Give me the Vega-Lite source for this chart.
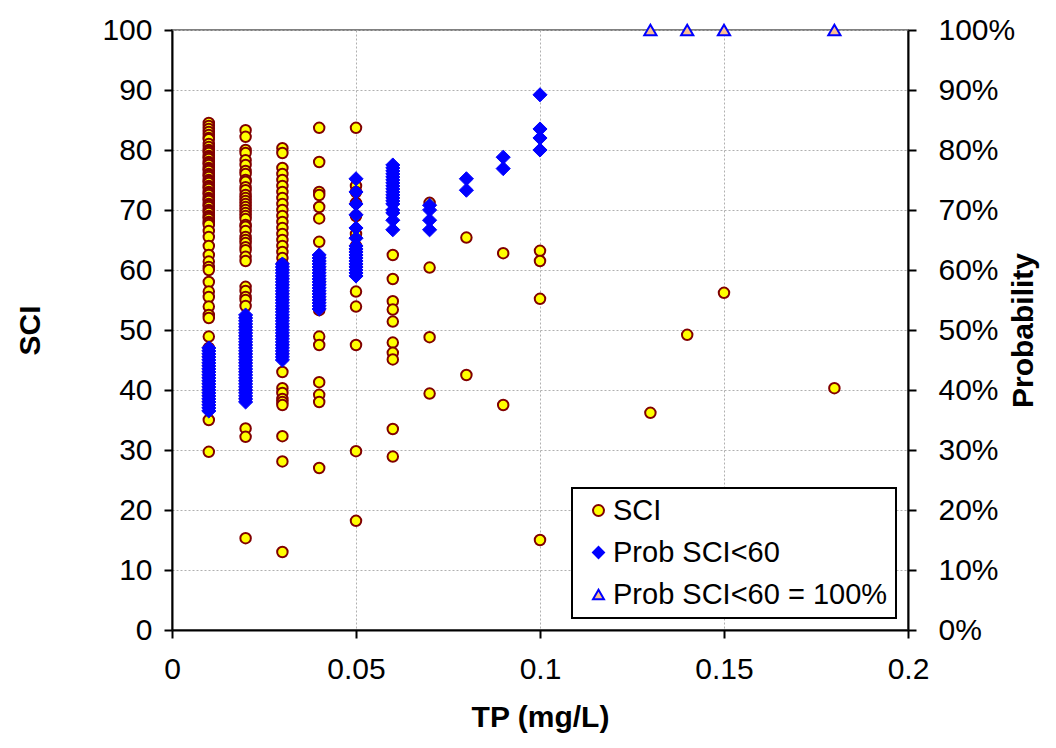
{
  "$schema": "https://vega.github.io/schema/vega-lite/v6.json",
  "width": 736,
  "height": 600,
  "autosize": {"type": "none"},
  "padding": {"left": 172, "top": 30, "right": 148, "bottom": 118},
  "background": "white",
  "config": {
    "font": "Liberation Sans",
    "view": {"stroke": "#808080", "strokeWidth": 2},
    "axis": {
      "labelFont": "Liberation Sans",
      "labelFontSize": 30,
      "labelColor": "black",
      "titleFont": "Liberation Sans",
      "titleFontSize": 30,
      "titleFontWeight": "bold",
      "titleColor": "black",
      "domainColor": "black",
      "domainWidth": 2,
      "tickColor": "black",
      "tickWidth": 2,
      "tickSize": 8,
      "gridColor": "#b0b0b0",
      "gridDash": [2, 2],
      "gridWidth": 1
    },
    "legend": {"strokeWidth": 2}
  },
  "data": {
    "values": [
      {"tp": 0.01, "value": 84.5, "series": "SCI"},
      {"tp": 0.01, "value": 84, "series": "SCI"},
      {"tp": 0.01, "value": 83.5, "series": "SCI"},
      {"tp": 0.01, "value": 83, "series": "SCI"},
      {"tp": 0.01, "value": 82.5, "series": "SCI"},
      {"tp": 0.01, "value": 82, "series": "SCI"},
      {"tp": 0.01, "value": 81.8, "series": "SCI"},
      {"tp": 0.01, "value": 81, "series": "SCI"},
      {"tp": 0.01, "value": 80.5, "series": "SCI"},
      {"tp": 0.01, "value": 80, "series": "SCI"},
      {"tp": 0.01, "value": 79.8, "series": "SCI"},
      {"tp": 0.01, "value": 79.5, "series": "SCI"},
      {"tp": 0.01, "value": 79, "series": "SCI"},
      {"tp": 0.01, "value": 78.8, "series": "SCI"},
      {"tp": 0.01, "value": 78.5, "series": "SCI"},
      {"tp": 0.01, "value": 78, "series": "SCI"},
      {"tp": 0.01, "value": 77.8, "series": "SCI"},
      {"tp": 0.01, "value": 77.5, "series": "SCI"},
      {"tp": 0.01, "value": 77, "series": "SCI"},
      {"tp": 0.01, "value": 76.8, "series": "SCI"},
      {"tp": 0.01, "value": 76.5, "series": "SCI"},
      {"tp": 0.01, "value": 76, "series": "SCI"},
      {"tp": 0.01, "value": 75.8, "series": "SCI"},
      {"tp": 0.01, "value": 75.5, "series": "SCI"},
      {"tp": 0.01, "value": 75, "series": "SCI"},
      {"tp": 0.01, "value": 74.8, "series": "SCI"},
      {"tp": 0.01, "value": 74.5, "series": "SCI"},
      {"tp": 0.01, "value": 74, "series": "SCI"},
      {"tp": 0.01, "value": 73.8, "series": "SCI"},
      {"tp": 0.01, "value": 73.5, "series": "SCI"},
      {"tp": 0.01, "value": 73, "series": "SCI"},
      {"tp": 0.01, "value": 72.8, "series": "SCI"},
      {"tp": 0.01, "value": 72.5, "series": "SCI"},
      {"tp": 0.01, "value": 72, "series": "SCI"},
      {"tp": 0.01, "value": 71.8, "series": "SCI"},
      {"tp": 0.01, "value": 71.5, "series": "SCI"},
      {"tp": 0.01, "value": 71, "series": "SCI"},
      {"tp": 0.01, "value": 70.8, "series": "SCI"},
      {"tp": 0.01, "value": 70.5, "series": "SCI"},
      {"tp": 0.01, "value": 70, "series": "SCI"},
      {"tp": 0.01, "value": 69.8, "series": "SCI"},
      {"tp": 0.01, "value": 69.5, "series": "SCI"},
      {"tp": 0.01, "value": 69, "series": "SCI"},
      {"tp": 0.01, "value": 68.8, "series": "SCI"},
      {"tp": 0.01, "value": 68.5, "series": "SCI"},
      {"tp": 0.01, "value": 68, "series": "SCI"},
      {"tp": 0.01, "value": 67.8, "series": "SCI"},
      {"tp": 0.01, "value": 67.5, "series": "SCI"},
      {"tp": 0.01, "value": 66.5, "series": "SCI"},
      {"tp": 0.01, "value": 65.5, "series": "SCI"},
      {"tp": 0.01, "value": 64, "series": "SCI"},
      {"tp": 0.01, "value": 62.5, "series": "SCI"},
      {"tp": 0.01, "value": 61.4, "series": "SCI"},
      {"tp": 0.01, "value": 60.5, "series": "SCI"},
      {"tp": 0.01, "value": 60, "series": "SCI"},
      {"tp": 0.01, "value": 58, "series": "SCI"},
      {"tp": 0.01, "value": 56.4, "series": "SCI"},
      {"tp": 0.01, "value": 55.5, "series": "SCI"},
      {"tp": 0.01, "value": 53.9, "series": "SCI"},
      {"tp": 0.01, "value": 52.5, "series": "SCI"},
      {"tp": 0.01, "value": 52, "series": "SCI"},
      {"tp": 0.01, "value": 48.9, "series": "SCI"},
      {"tp": 0.01, "value": 47, "series": "SCI"},
      {"tp": 0.01, "value": 45.5, "series": "SCI"},
      {"tp": 0.01, "value": 44, "series": "SCI"},
      {"tp": 0.01, "value": 43, "series": "SCI"},
      {"tp": 0.01, "value": 42, "series": "SCI"},
      {"tp": 0.01, "value": 41, "series": "SCI"},
      {"tp": 0.01, "value": 40, "series": "SCI"},
      {"tp": 0.01, "value": 39, "series": "SCI"},
      {"tp": 0.01, "value": 38, "series": "SCI"},
      {"tp": 0.01, "value": 35, "series": "SCI"},
      {"tp": 0.01, "value": 29.7, "series": "SCI"},
      {"tp": 0.02, "value": 83.3, "series": "SCI"},
      {"tp": 0.02, "value": 82.2, "series": "SCI"},
      {"tp": 0.02, "value": 80, "series": "SCI"},
      {"tp": 0.02, "value": 79.5, "series": "SCI"},
      {"tp": 0.02, "value": 78.3, "series": "SCI"},
      {"tp": 0.02, "value": 77.5, "series": "SCI"},
      {"tp": 0.02, "value": 76.5, "series": "SCI"},
      {"tp": 0.02, "value": 76, "series": "SCI"},
      {"tp": 0.02, "value": 75, "series": "SCI"},
      {"tp": 0.02, "value": 74.7, "series": "SCI"},
      {"tp": 0.02, "value": 73.8, "series": "SCI"},
      {"tp": 0.02, "value": 73.3, "series": "SCI"},
      {"tp": 0.02, "value": 72.5, "series": "SCI"},
      {"tp": 0.02, "value": 72, "series": "SCI"},
      {"tp": 0.02, "value": 71.5, "series": "SCI"},
      {"tp": 0.02, "value": 71, "series": "SCI"},
      {"tp": 0.02, "value": 70.5, "series": "SCI"},
      {"tp": 0.02, "value": 70, "series": "SCI"},
      {"tp": 0.02, "value": 69.5, "series": "SCI"},
      {"tp": 0.02, "value": 69, "series": "SCI"},
      {"tp": 0.02, "value": 68.5, "series": "SCI"},
      {"tp": 0.02, "value": 67.5, "series": "SCI"},
      {"tp": 0.02, "value": 67.2, "series": "SCI"},
      {"tp": 0.02, "value": 66.5, "series": "SCI"},
      {"tp": 0.02, "value": 65.5, "series": "SCI"},
      {"tp": 0.02, "value": 65, "series": "SCI"},
      {"tp": 0.02, "value": 64.5, "series": "SCI"},
      {"tp": 0.02, "value": 63.8, "series": "SCI"},
      {"tp": 0.02, "value": 63.3, "series": "SCI"},
      {"tp": 0.02, "value": 62.2, "series": "SCI"},
      {"tp": 0.02, "value": 61.5, "series": "SCI"},
      {"tp": 0.02, "value": 57.2, "series": "SCI"},
      {"tp": 0.02, "value": 56.5, "series": "SCI"},
      {"tp": 0.02, "value": 55.5, "series": "SCI"},
      {"tp": 0.02, "value": 55, "series": "SCI"},
      {"tp": 0.02, "value": 54, "series": "SCI"},
      {"tp": 0.02, "value": 52, "series": "SCI"},
      {"tp": 0.02, "value": 50.5, "series": "SCI"},
      {"tp": 0.02, "value": 49, "series": "SCI"},
      {"tp": 0.02, "value": 47.5, "series": "SCI"},
      {"tp": 0.02, "value": 46, "series": "SCI"},
      {"tp": 0.02, "value": 44.5, "series": "SCI"},
      {"tp": 0.02, "value": 43, "series": "SCI"},
      {"tp": 0.02, "value": 41.5, "series": "SCI"},
      {"tp": 0.02, "value": 40, "series": "SCI"},
      {"tp": 0.02, "value": 38.5, "series": "SCI"},
      {"tp": 0.02, "value": 33.6, "series": "SCI"},
      {"tp": 0.02, "value": 32.2, "series": "SCI"},
      {"tp": 0.02, "value": 15.3, "series": "SCI"},
      {"tp": 0.03, "value": 80.3, "series": "SCI"},
      {"tp": 0.03, "value": 79.5, "series": "SCI"},
      {"tp": 0.03, "value": 77, "series": "SCI"},
      {"tp": 0.03, "value": 76, "series": "SCI"},
      {"tp": 0.03, "value": 75, "series": "SCI"},
      {"tp": 0.03, "value": 74, "series": "SCI"},
      {"tp": 0.03, "value": 73, "series": "SCI"},
      {"tp": 0.03, "value": 72, "series": "SCI"},
      {"tp": 0.03, "value": 71, "series": "SCI"},
      {"tp": 0.03, "value": 70, "series": "SCI"},
      {"tp": 0.03, "value": 69, "series": "SCI"},
      {"tp": 0.03, "value": 68, "series": "SCI"},
      {"tp": 0.03, "value": 67, "series": "SCI"},
      {"tp": 0.03, "value": 66, "series": "SCI"},
      {"tp": 0.03, "value": 65, "series": "SCI"},
      {"tp": 0.03, "value": 64, "series": "SCI"},
      {"tp": 0.03, "value": 63, "series": "SCI"},
      {"tp": 0.03, "value": 62, "series": "SCI"},
      {"tp": 0.03, "value": 61, "series": "SCI"},
      {"tp": 0.03, "value": 60, "series": "SCI"},
      {"tp": 0.03, "value": 58.5, "series": "SCI"},
      {"tp": 0.03, "value": 57.5, "series": "SCI"},
      {"tp": 0.03, "value": 56, "series": "SCI"},
      {"tp": 0.03, "value": 55, "series": "SCI"},
      {"tp": 0.03, "value": 53.5, "series": "SCI"},
      {"tp": 0.03, "value": 52, "series": "SCI"},
      {"tp": 0.03, "value": 50.5, "series": "SCI"},
      {"tp": 0.03, "value": 49, "series": "SCI"},
      {"tp": 0.03, "value": 47.5, "series": "SCI"},
      {"tp": 0.03, "value": 46, "series": "SCI"},
      {"tp": 0.03, "value": 43, "series": "SCI"},
      {"tp": 0.03, "value": 40.3, "series": "SCI"},
      {"tp": 0.03, "value": 39.5, "series": "SCI"},
      {"tp": 0.03, "value": 38.5, "series": "SCI"},
      {"tp": 0.03, "value": 38, "series": "SCI"},
      {"tp": 0.03, "value": 37.5, "series": "SCI"},
      {"tp": 0.03, "value": 32.3, "series": "SCI"},
      {"tp": 0.03, "value": 28.1, "series": "SCI"},
      {"tp": 0.03, "value": 13, "series": "SCI"},
      {"tp": 0.04, "value": 83.7, "series": "SCI"},
      {"tp": 0.04, "value": 78, "series": "SCI"},
      {"tp": 0.04, "value": 73, "series": "SCI"},
      {"tp": 0.04, "value": 72.5, "series": "SCI"},
      {"tp": 0.04, "value": 70.5, "series": "SCI"},
      {"tp": 0.04, "value": 68.6, "series": "SCI"},
      {"tp": 0.04, "value": 64.7, "series": "SCI"},
      {"tp": 0.04, "value": 62, "series": "SCI"},
      {"tp": 0.04, "value": 61.4, "series": "SCI"},
      {"tp": 0.04, "value": 60, "series": "SCI"},
      {"tp": 0.04, "value": 58, "series": "SCI"},
      {"tp": 0.04, "value": 57.8, "series": "SCI"},
      {"tp": 0.04, "value": 56, "series": "SCI"},
      {"tp": 0.04, "value": 55, "series": "SCI"},
      {"tp": 0.04, "value": 53.3, "series": "SCI"},
      {"tp": 0.04, "value": 48.9, "series": "SCI"},
      {"tp": 0.04, "value": 47.5, "series": "SCI"},
      {"tp": 0.04, "value": 41.3, "series": "SCI"},
      {"tp": 0.04, "value": 39.2, "series": "SCI"},
      {"tp": 0.04, "value": 38, "series": "SCI"},
      {"tp": 0.04, "value": 27, "series": "SCI"},
      {"tp": 0.05, "value": 83.7, "series": "SCI"},
      {"tp": 0.05, "value": 74, "series": "SCI"},
      {"tp": 0.05, "value": 73, "series": "SCI"},
      {"tp": 0.05, "value": 71.2, "series": "SCI"},
      {"tp": 0.05, "value": 69, "series": "SCI"},
      {"tp": 0.05, "value": 66, "series": "SCI"},
      {"tp": 0.05, "value": 64, "series": "SCI"},
      {"tp": 0.05, "value": 63, "series": "SCI"},
      {"tp": 0.05, "value": 62, "series": "SCI"},
      {"tp": 0.05, "value": 60.5, "series": "SCI"},
      {"tp": 0.05, "value": 56.4, "series": "SCI"},
      {"tp": 0.05, "value": 53.9, "series": "SCI"},
      {"tp": 0.05, "value": 47.5, "series": "SCI"},
      {"tp": 0.05, "value": 29.8, "series": "SCI"},
      {"tp": 0.05, "value": 18.2, "series": "SCI"},
      {"tp": 0.06, "value": 72, "series": "SCI"},
      {"tp": 0.06, "value": 62.5, "series": "SCI"},
      {"tp": 0.06, "value": 58.5, "series": "SCI"},
      {"tp": 0.06, "value": 54.8, "series": "SCI"},
      {"tp": 0.06, "value": 53.4, "series": "SCI"},
      {"tp": 0.06, "value": 51.4, "series": "SCI"},
      {"tp": 0.06, "value": 47.9, "series": "SCI"},
      {"tp": 0.06, "value": 46.2, "series": "SCI"},
      {"tp": 0.06, "value": 45.1, "series": "SCI"},
      {"tp": 0.06, "value": 33.5, "series": "SCI"},
      {"tp": 0.06, "value": 28.9, "series": "SCI"},
      {"tp": 0.07, "value": 71.2, "series": "SCI"},
      {"tp": 0.07, "value": 60.4, "series": "SCI"},
      {"tp": 0.07, "value": 48.8, "series": "SCI"},
      {"tp": 0.07, "value": 39.4, "series": "SCI"},
      {"tp": 0.08, "value": 65.4, "series": "SCI"},
      {"tp": 0.08, "value": 42.5, "series": "SCI"},
      {"tp": 0.09, "value": 62.8, "series": "SCI"},
      {"tp": 0.09, "value": 37.5, "series": "SCI"},
      {"tp": 0.1, "value": 63.2, "series": "SCI"},
      {"tp": 0.1, "value": 61.5, "series": "SCI"},
      {"tp": 0.1, "value": 55.2, "series": "SCI"},
      {"tp": 0.1, "value": 15, "series": "SCI"},
      {"tp": 0.13, "value": 36.2, "series": "SCI"},
      {"tp": 0.14, "value": 49.2, "series": "SCI"},
      {"tp": 0.15, "value": 56.2, "series": "SCI"},
      {"tp": 0.18, "value": 40.3, "series": "SCI"},

      {"tp": 0.01, "value": 0.365, "series": "Prob SCI<60"},
      {"tp": 0.01, "value": 0.37, "series": "Prob SCI<60"},
      {"tp": 0.01, "value": 0.375, "series": "Prob SCI<60"},
      {"tp": 0.01, "value": 0.38, "series": "Prob SCI<60"},
      {"tp": 0.01, "value": 0.385, "series": "Prob SCI<60"},
      {"tp": 0.01, "value": 0.39, "series": "Prob SCI<60"},
      {"tp": 0.01, "value": 0.395, "series": "Prob SCI<60"},
      {"tp": 0.01, "value": 0.4, "series": "Prob SCI<60"},
      {"tp": 0.01, "value": 0.405, "series": "Prob SCI<60"},
      {"tp": 0.01, "value": 0.41, "series": "Prob SCI<60"},
      {"tp": 0.01, "value": 0.415, "series": "Prob SCI<60"},
      {"tp": 0.01, "value": 0.42, "series": "Prob SCI<60"},
      {"tp": 0.01, "value": 0.425, "series": "Prob SCI<60"},
      {"tp": 0.01, "value": 0.43, "series": "Prob SCI<60"},
      {"tp": 0.01, "value": 0.435, "series": "Prob SCI<60"},
      {"tp": 0.01, "value": 0.44, "series": "Prob SCI<60"},
      {"tp": 0.01, "value": 0.445, "series": "Prob SCI<60"},
      {"tp": 0.01, "value": 0.45, "series": "Prob SCI<60"},
      {"tp": 0.01, "value": 0.455, "series": "Prob SCI<60"},
      {"tp": 0.01, "value": 0.46, "series": "Prob SCI<60"},
      {"tp": 0.01, "value": 0.465, "series": "Prob SCI<60"},
      {"tp": 0.01, "value": 0.47, "series": "Prob SCI<60"},
      {"tp": 0.02, "value": 0.38, "series": "Prob SCI<60"},
      {"tp": 0.02, "value": 0.385, "series": "Prob SCI<60"},
      {"tp": 0.02, "value": 0.39, "series": "Prob SCI<60"},
      {"tp": 0.02, "value": 0.395, "series": "Prob SCI<60"},
      {"tp": 0.02, "value": 0.4, "series": "Prob SCI<60"},
      {"tp": 0.02, "value": 0.405, "series": "Prob SCI<60"},
      {"tp": 0.02, "value": 0.41, "series": "Prob SCI<60"},
      {"tp": 0.02, "value": 0.415, "series": "Prob SCI<60"},
      {"tp": 0.02, "value": 0.42, "series": "Prob SCI<60"},
      {"tp": 0.02, "value": 0.425, "series": "Prob SCI<60"},
      {"tp": 0.02, "value": 0.43, "series": "Prob SCI<60"},
      {"tp": 0.02, "value": 0.435, "series": "Prob SCI<60"},
      {"tp": 0.02, "value": 0.44, "series": "Prob SCI<60"},
      {"tp": 0.02, "value": 0.445, "series": "Prob SCI<60"},
      {"tp": 0.02, "value": 0.45, "series": "Prob SCI<60"},
      {"tp": 0.02, "value": 0.455, "series": "Prob SCI<60"},
      {"tp": 0.02, "value": 0.46, "series": "Prob SCI<60"},
      {"tp": 0.02, "value": 0.465, "series": "Prob SCI<60"},
      {"tp": 0.02, "value": 0.47, "series": "Prob SCI<60"},
      {"tp": 0.02, "value": 0.475, "series": "Prob SCI<60"},
      {"tp": 0.02, "value": 0.48, "series": "Prob SCI<60"},
      {"tp": 0.02, "value": 0.485, "series": "Prob SCI<60"},
      {"tp": 0.02, "value": 0.49, "series": "Prob SCI<60"},
      {"tp": 0.02, "value": 0.495, "series": "Prob SCI<60"},
      {"tp": 0.02, "value": 0.5, "series": "Prob SCI<60"},
      {"tp": 0.02, "value": 0.505, "series": "Prob SCI<60"},
      {"tp": 0.02, "value": 0.51, "series": "Prob SCI<60"},
      {"tp": 0.02, "value": 0.515, "series": "Prob SCI<60"},
      {"tp": 0.02, "value": 0.52, "series": "Prob SCI<60"},
      {"tp": 0.02, "value": 0.525, "series": "Prob SCI<60"},
      {"tp": 0.03, "value": 0.45, "series": "Prob SCI<60"},
      {"tp": 0.03, "value": 0.455, "series": "Prob SCI<60"},
      {"tp": 0.03, "value": 0.46, "series": "Prob SCI<60"},
      {"tp": 0.03, "value": 0.465, "series": "Prob SCI<60"},
      {"tp": 0.03, "value": 0.47, "series": "Prob SCI<60"},
      {"tp": 0.03, "value": 0.475, "series": "Prob SCI<60"},
      {"tp": 0.03, "value": 0.48, "series": "Prob SCI<60"},
      {"tp": 0.03, "value": 0.485, "series": "Prob SCI<60"},
      {"tp": 0.03, "value": 0.49, "series": "Prob SCI<60"},
      {"tp": 0.03, "value": 0.495, "series": "Prob SCI<60"},
      {"tp": 0.03, "value": 0.5, "series": "Prob SCI<60"},
      {"tp": 0.03, "value": 0.505, "series": "Prob SCI<60"},
      {"tp": 0.03, "value": 0.51, "series": "Prob SCI<60"},
      {"tp": 0.03, "value": 0.515, "series": "Prob SCI<60"},
      {"tp": 0.03, "value": 0.52, "series": "Prob SCI<60"},
      {"tp": 0.03, "value": 0.525, "series": "Prob SCI<60"},
      {"tp": 0.03, "value": 0.53, "series": "Prob SCI<60"},
      {"tp": 0.03, "value": 0.535, "series": "Prob SCI<60"},
      {"tp": 0.03, "value": 0.54, "series": "Prob SCI<60"},
      {"tp": 0.03, "value": 0.545, "series": "Prob SCI<60"},
      {"tp": 0.03, "value": 0.55, "series": "Prob SCI<60"},
      {"tp": 0.03, "value": 0.555, "series": "Prob SCI<60"},
      {"tp": 0.03, "value": 0.56, "series": "Prob SCI<60"},
      {"tp": 0.03, "value": 0.565, "series": "Prob SCI<60"},
      {"tp": 0.03, "value": 0.57, "series": "Prob SCI<60"},
      {"tp": 0.03, "value": 0.575, "series": "Prob SCI<60"},
      {"tp": 0.03, "value": 0.58, "series": "Prob SCI<60"},
      {"tp": 0.03, "value": 0.585, "series": "Prob SCI<60"},
      {"tp": 0.03, "value": 0.59, "series": "Prob SCI<60"},
      {"tp": 0.03, "value": 0.595, "series": "Prob SCI<60"},
      {"tp": 0.03, "value": 0.6, "series": "Prob SCI<60"},
      {"tp": 0.03, "value": 0.605, "series": "Prob SCI<60"},
      {"tp": 0.03, "value": 0.61, "series": "Prob SCI<60"},
      {"tp": 0.04, "value": 0.535, "series": "Prob SCI<60"},
      {"tp": 0.04, "value": 0.54, "series": "Prob SCI<60"},
      {"tp": 0.04, "value": 0.545, "series": "Prob SCI<60"},
      {"tp": 0.04, "value": 0.55, "series": "Prob SCI<60"},
      {"tp": 0.04, "value": 0.555, "series": "Prob SCI<60"},
      {"tp": 0.04, "value": 0.56, "series": "Prob SCI<60"},
      {"tp": 0.04, "value": 0.565, "series": "Prob SCI<60"},
      {"tp": 0.04, "value": 0.57, "series": "Prob SCI<60"},
      {"tp": 0.04, "value": 0.575, "series": "Prob SCI<60"},
      {"tp": 0.04, "value": 0.58, "series": "Prob SCI<60"},
      {"tp": 0.04, "value": 0.585, "series": "Prob SCI<60"},
      {"tp": 0.04, "value": 0.59, "series": "Prob SCI<60"},
      {"tp": 0.04, "value": 0.595, "series": "Prob SCI<60"},
      {"tp": 0.04, "value": 0.6, "series": "Prob SCI<60"},
      {"tp": 0.04, "value": 0.605, "series": "Prob SCI<60"},
      {"tp": 0.04, "value": 0.61, "series": "Prob SCI<60"},
      {"tp": 0.04, "value": 0.615, "series": "Prob SCI<60"},
      {"tp": 0.04, "value": 0.62, "series": "Prob SCI<60"},
      {"tp": 0.04, "value": 0.625, "series": "Prob SCI<60"},
      {"tp": 0.05, "value": 0.752, "series": "Prob SCI<60"},
      {"tp": 0.05, "value": 0.73, "series": "Prob SCI<60"},
      {"tp": 0.05, "value": 0.71, "series": "Prob SCI<60"},
      {"tp": 0.05, "value": 0.692, "series": "Prob SCI<60"},
      {"tp": 0.05, "value": 0.67, "series": "Prob SCI<60"},
      {"tp": 0.05, "value": 0.653, "series": "Prob SCI<60"},
      {"tp": 0.05, "value": 0.64, "series": "Prob SCI<60"},
      {"tp": 0.05, "value": 0.635, "series": "Prob SCI<60"},
      {"tp": 0.05, "value": 0.63, "series": "Prob SCI<60"},
      {"tp": 0.05, "value": 0.625, "series": "Prob SCI<60"},
      {"tp": 0.05, "value": 0.62, "series": "Prob SCI<60"},
      {"tp": 0.05, "value": 0.615, "series": "Prob SCI<60"},
      {"tp": 0.05, "value": 0.61, "series": "Prob SCI<60"},
      {"tp": 0.05, "value": 0.605, "series": "Prob SCI<60"},
      {"tp": 0.05, "value": 0.6, "series": "Prob SCI<60"},
      {"tp": 0.05, "value": 0.595, "series": "Prob SCI<60"},
      {"tp": 0.05, "value": 0.59, "series": "Prob SCI<60"},
      {"tp": 0.06, "value": 0.775, "series": "Prob SCI<60"},
      {"tp": 0.06, "value": 0.77, "series": "Prob SCI<60"},
      {"tp": 0.06, "value": 0.765, "series": "Prob SCI<60"},
      {"tp": 0.06, "value": 0.76, "series": "Prob SCI<60"},
      {"tp": 0.06, "value": 0.755, "series": "Prob SCI<60"},
      {"tp": 0.06, "value": 0.75, "series": "Prob SCI<60"},
      {"tp": 0.06, "value": 0.745, "series": "Prob SCI<60"},
      {"tp": 0.06, "value": 0.74, "series": "Prob SCI<60"},
      {"tp": 0.06, "value": 0.735, "series": "Prob SCI<60"},
      {"tp": 0.06, "value": 0.73, "series": "Prob SCI<60"},
      {"tp": 0.06, "value": 0.725, "series": "Prob SCI<60"},
      {"tp": 0.06, "value": 0.72, "series": "Prob SCI<60"},
      {"tp": 0.06, "value": 0.715, "series": "Prob SCI<60"},
      {"tp": 0.06, "value": 0.71, "series": "Prob SCI<60"},
      {"tp": 0.06, "value": 0.7, "series": "Prob SCI<60"},
      {"tp": 0.06, "value": 0.695, "series": "Prob SCI<60"},
      {"tp": 0.06, "value": 0.683, "series": "Prob SCI<60"},
      {"tp": 0.06, "value": 0.667, "series": "Prob SCI<60"},
      {"tp": 0.07, "value": 0.708, "series": "Prob SCI<60"},
      {"tp": 0.07, "value": 0.7, "series": "Prob SCI<60"},
      {"tp": 0.07, "value": 0.683, "series": "Prob SCI<60"},
      {"tp": 0.07, "value": 0.667, "series": "Prob SCI<60"},
      {"tp": 0.08, "value": 0.752, "series": "Prob SCI<60"},
      {"tp": 0.08, "value": 0.733, "series": "Prob SCI<60"},
      {"tp": 0.09, "value": 0.788, "series": "Prob SCI<60"},
      {"tp": 0.09, "value": 0.769, "series": "Prob SCI<60"},
      {"tp": 0.1, "value": 0.892, "series": "Prob SCI<60"},
      {"tp": 0.1, "value": 0.835, "series": "Prob SCI<60"},
      {"tp": 0.1, "value": 0.82, "series": "Prob SCI<60"},
      {"tp": 0.1, "value": 0.8, "series": "Prob SCI<60"},

      {"tp": 0.13, "value": 1, "series": "Prob SCI<60 = 100%"},
      {"tp": 0.14, "value": 1, "series": "Prob SCI<60 = 100%"},
      {"tp": 0.15, "value": 1, "series": "Prob SCI<60 = 100%"},
      {"tp": 0.18, "value": 1, "series": "Prob SCI<60 = 100%"}
    ]
  },
  "layer": [
    {
      "transform": [{"filter": "datum.series === 'SCI'"}],
      "mark": {"type": "point", "filled": true, "opacity": 1, "size": 110, "strokeWidth": 2},
      "encoding": {
        "x": {
          "field": "tp", "type": "quantitative",
          "scale": {"domain": [0, 0.2], "nice": false, "zero": true},
          "axis": {
            "values": [0, 0.05, 0.1, 0.15, 0.2], "format": "~g",
            "title": "TP (mg/L)", "grid": true,
            "labelPadding": 16, "titlePadding": 18, "labelFlush": false
          }
        },
        "y": {
          "field": "value", "type": "quantitative",
          "scale": {"domain": [0, 100], "nice": false},
          "axis": {
            "values": [0, 10, 20, 30, 40, 50, 60, 70, 80, 90, 100],
            "title": "SCI", "grid": true,
            "labelPadding": 12, "titlePadding": 56
          }
        },
        "fill": {
          "field": "series", "type": "nominal",
          "scale": {"domain": ["SCI", "Prob SCI<60", "Prob SCI<60 = 100%"], "range": ["#FFFF00", "#0000FF", "#FAC090"]},
          "legend": {
            "orient": "none", "legendX": 400, "legendY": 458, "title": null,
            "labelFontSize": 29, "labelFont": "Liberation Sans", "labelColor": "black", "labelLimit": 0,
            "symbolSize": 120, "symbolStrokeWidth": 2,
            "strokeColor": "black", "fillColor": "white",
            "padding": 8, "rowPadding": 12, "labelOffset": 0, "symbolOffset": 4
          }
        },
        "stroke": {
          "field": "series", "type": "nominal",
          "scale": {"domain": ["SCI", "Prob SCI<60", "Prob SCI<60 = 100%"], "range": ["#800000", "#0000FF", "#0000FF"]}
        },
        "shape": {
          "field": "series", "type": "nominal",
          "scale": {"domain": ["SCI", "Prob SCI<60", "Prob SCI<60 = 100%"], "range": ["circle", "diamond", "triangle-up"]}
        }
      }
    },
    {
      "transform": [{"filter": "datum.series === 'Prob SCI<60'"}],
      "mark": {"type": "point", "filled": true, "opacity": 1, "size": 200, "strokeWidth": 1},
      "encoding": {
        "x": {"field": "tp", "type": "quantitative"},
        "y": {
          "field": "value", "type": "quantitative",
          "scale": {"domain": [0, 1], "nice": false},
          "axis": {
            "orient": "right", "format": ".0%",
            "values": [0, 0.1, 0.2, 0.3, 0.4, 0.5, 0.6, 0.7, 0.8, 0.9, 1],
            "title": "Probability", "grid": false, "titleAngle": 270,
            "labelPadding": 22, "titlePadding": 24
          }
        },
        "fill": {"field": "series", "type": "nominal"},
        "stroke": {"field": "series", "type": "nominal"},
        "shape": {"field": "series", "type": "nominal"}
      }
    },
    {
      "transform": [{"filter": "datum.series === 'Prob SCI<60 = 100%'"}],
      "mark": {"type": "point", "filled": true, "opacity": 1, "size": 150, "strokeWidth": 2},
      "encoding": {
        "x": {"field": "tp", "type": "quantitative"},
        "y": {
          "field": "value", "type": "quantitative",
          "scale": {"domain": [0, 1], "nice": false},
          "axis": null
        },
        "fill": {"field": "series", "type": "nominal"},
        "stroke": {"field": "series", "type": "nominal"},
        "shape": {"field": "series", "type": "nominal"}
      }
    }
  ],
  "resolve": {"scale": {"y": "independent"}}
}
